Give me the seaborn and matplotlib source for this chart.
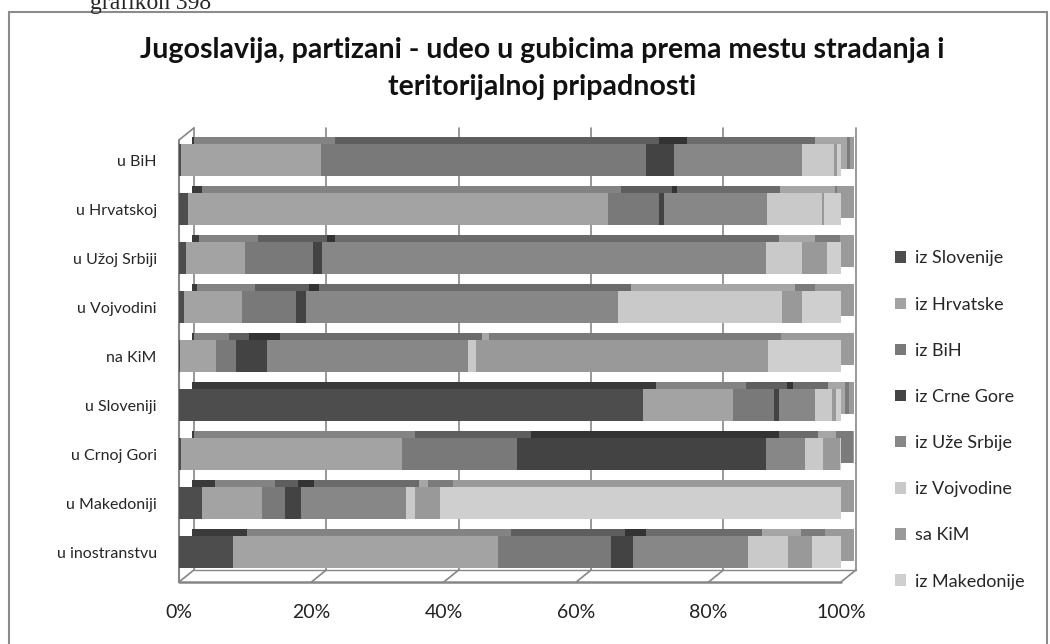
import pandas as pd
import seaborn as sns
import matplotlib.pyplot as plt
from matplotlib.patches import Rectangle, Patch

# mesto stradanja (rows) and teritorijalna pripadnost (series), in %
places = ['u BiH', 'u Hrvatskoj', 'u Užoj Srbiji', 'u Vojvodini', 'na KiM',
          'u Sloveniji', 'u Crnoj Gori', 'u Makedoniji', 'u inostranstvu']
origins = ['iz Slovenije', 'iz Hrvatske', 'iz BiH', 'iz Crne Gore',
           'iz Uže Srbije', 'iz Vojvodine', 'sa KiM', 'iz Makedonije']

iz_slovenije = [0.3, 1.4, 1.0, 0.7, 0.2, 70.1, 0.3, 3.5, 8.2]
iz_hrvatske = [21.2, 63.4, 8.9, 8.8, 5.4, 13.6, 33.4, 9.0, 40.0]
iz_bih = [49.0, 7.7, 10.4, 8.2, 3.0, 6.2, 17.4, 3.5, 17.1]
iz_crne_gore = [4.3, 0.8, 1.3, 1.5, 4.7, 0.8, 37.6, 2.4, 3.3]
iz_uze_srbije = [19.3, 15.5, 67.1, 47.1, 30.4, 5.4, 5.9, 15.9, 17.4]
iz_vojvodine = [4.8, 8.3, 5.4, 24.8, 1.2, 2.5, 2.7, 1.3, 6.0]
sa_kim = [0.5, 0.3, 3.8, 3.0, 44.1, 0.6, 2.5, 3.8, 3.6]
iz_makedonije = [0.6, 2.6, 2.1, 5.9, 11.0, 0.8, 0.2, 60.6, 4.4]

front_cols = ['#4d4d4d', '#a3a3a3', '#797979', '#434343',
              '#878787', '#c9c9c9', '#999999', '#cfcfcf']
top_cols = ['#3a3a3a', '#838383', '#5e5e5e', '#333333',
            '#6b6b6b', '#a6a6a6', '#7b7b7b', '#9a9a9a']

xticks = [0, 20, 40, 60, 80, 100]
xticklabels = ['0%', '20%', '40%', '60%', '80%', '100%']

df = pd.DataFrame(dict(zip(origins, [iz_slovenije, iz_hrvatske, iz_bih, iz_crne_gore,
                                     iz_uze_srbije, iz_vojvodine, sa_kim, iz_makedonije])),
                  index=places)
df = df.div(df.sum(axis=1), axis=0) * 100
cum = df.cumsum(axis=1)

sns.set_style('white')
plt.rcParams['font.family'] = ['Lato', 'DejaVu Sans']

fig = plt.figure(figsize=(10.5, 6.44), dpi=100)
ax = fig.add_axes([179 / 1050, 62 / 644, 662 / 1050, 442 / 644])

y_lo, y_hi = 8.61, -0.41
bar_dx, bar_dy = 2.0, 0.145     # depth of the bars (data units)
wall_dx, wall_dy = 2.25, 0.245  # depth of the walls

# back wall grid + floor + left wall
gcol = '#868686'
for t in xticks:
    ax.plot([t + wall_dx, t + wall_dx], [y_lo - wall_dy, y_hi - wall_dy], color=gcol, lw=1.2, clip_on=False, zorder=0)
    ax.plot([t, t + wall_dx], [y_lo, y_lo - wall_dy], color=gcol, lw=1.2, clip_on=False, zorder=0)
ax.plot([0, 100], [y_lo, y_lo], color=gcol, lw=1.8, clip_on=False, zorder=0)
ax.plot([wall_dx, 100 + wall_dx], [y_lo - wall_dy, y_lo - wall_dy], color=gcol, lw=1.0, clip_on=False, zorder=0)
ax.plot([0, 0], [y_lo, y_hi], color=gcol, lw=1.5, clip_on=False, zorder=0)
ax.plot([0, wall_dx], [y_hi, y_hi - wall_dy], color=gcol, lw=1.2, clip_on=False, zorder=0)

# back (depth) layer of the 3d bars first, then the front faces
for layer in ['back', 'front']:
    for i in reversed(range(len(origins))):
        n0 = len(ax.patches)
        col = top_cols[i] if layer == 'back' else front_cols[i]
        sns.barplot(x=cum[origins[i]].values, y=places, order=places, orient='h',
                    color=col, saturation=1, width=0.65, ax=ax, edgecolor='none')
        if layer == 'back':
            for p in ax.patches[n0:]:
                p.set_x(p.get_x() + bar_dx)
                p.set_y(p.get_y() - bar_dy)
                p.set_clip_on(False)

ax.set_xlim(0, 100)
ax.set_ylim(y_lo, y_hi)
ax.set_xticks(xticks)
ax.set_xticklabels(xticklabels, fontsize=14, color='#222222')
ax.tick_params(axis='x', length=0, pad=16)
ax.tick_params(axis='y', length=0, pad=16, labelsize=11.5)
ax.set_xlabel('')
ax.set_ylabel('')
for s in ax.spines.values():
    s.set_visible(False)

handles = [Patch(facecolor=c, edgecolor='none') for c in front_cols]
fig.legend(handles, origins, loc='center left', bbox_to_anchor=(895 / 1050, 1 - 420 / 644),
           frameon=False, fontsize=13, handlelength=0.6, handleheight=0.6,
           handletextpad=0.5, labelspacing=1.67, borderpad=0, borderaxespad=0)

fig.text(542 / 1050, 1 - 37 / 644,
         'Jugoslavija, partizani - udeo u gubicima prema mestu stradanja i\nteritorijalnoj pripadnosti',
         ha='center', va='top', fontsize=20.5, fontweight='bold', linespacing=1.5, color='#111111')

fig.text(90 / 1050, 1 - 9 / 644, 'grafikon 398', family='Liberation Serif',
         fontsize=17, va='baseline', ha='left')

fig.patches.append(Rectangle((9 / 1050, -0.05), 1038 / 1050, 1.05 - 12 / 644,
                             transform=fig.transFigure, fill=False,
                             edgecolor='#8c8c8c', lw=1.5))

fig.savefig('out.png', dpi=100)
